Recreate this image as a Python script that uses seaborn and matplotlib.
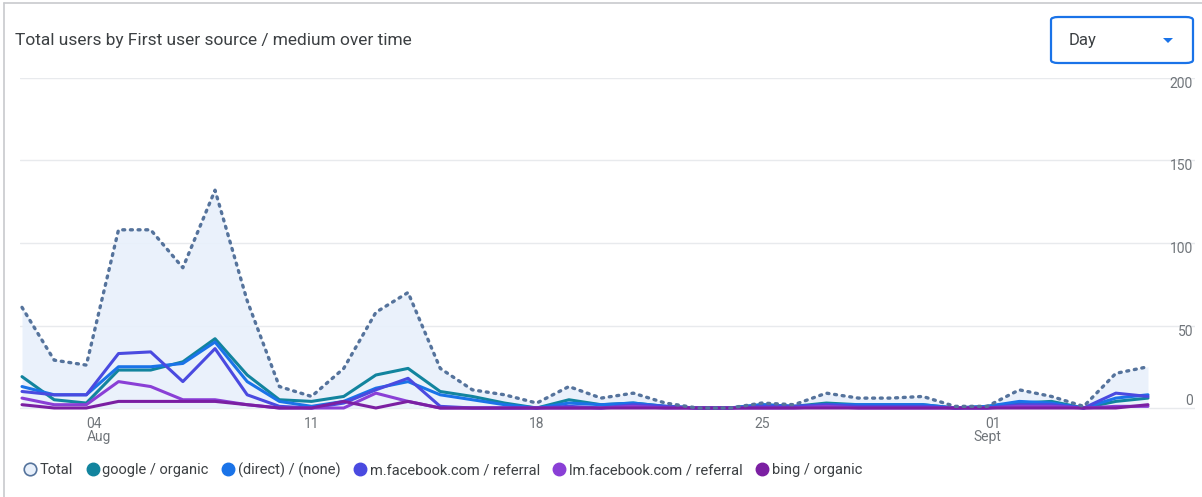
import matplotlib
matplotlib.use("Agg")
import matplotlib.pyplot as plt
import matplotlib.dates as mdates
import matplotlib.transforms as mtransforms
from matplotlib.lines import Line2D
from matplotlib.patches import FancyBboxPatch, Polygon
import pandas as pd
import seaborn as sns

# Data (daily users, 2 Aug - 6 Sept)
dates = pd.date_range("2024-08-02", "2024-09-06", freq="D")
total = [61, 29, 26, 108, 108, 85, 132, 65, 13, 7, 24, 58, 70, 24, 11, 8, 3, 13,
         6, 9, 3, 0, 0, 3, 2, 9, 6, 6, 7, 1, 1, 11, 7, 1, 21, 25]
google_organic = [19, 5, 3, 23, 23, 28, 42, 20, 5, 4, 7, 20, 24, 10, 7, 3, 0, 5,
                  2, 3, 1, 0, 0, 2, 1, 3, 2, 2, 2, 0, 1, 3, 4, 0, 4, 6]
direct_none = [13, 8, 8, 25, 25, 27, 40, 16, 4, 1, 4, 12, 16, 8, 5, 2, 0, 3,
               2, 3, 1, 0, 0, 2, 1, 2, 2, 2, 2, 0, 1, 4, 3, 0, 6, 8]
m_facebook = [10, 8, 8, 33, 34, 16, 36, 8, 1, 0, 3, 11, 18, 1, 0, 0, 0, 1,
              0, 2, 1, 0, 0, 1, 1, 2, 1, 1, 1, 0, 0, 2, 2, 0, 9, 7]
lm_facebook = [6, 2, 2, 16, 13, 5, 5, 2, 0, 0, 0, 9, 4, 0, 0, 0, 0, 0,
               0, 1, 0, 0, 0, 0, 0, 1, 0, 0, 0, 0, 0, 1, 1, 0, 1, 1]
bing_organic = [2, 0, 0, 4, 4, 4, 4, 2, 0, 0, 4, 0, 4, 0, 0, 0, 0, 0,
                0, 0, 0, 0, 0, 0, 0, 0, 0, 0, 0, 0, 0, 0, 0, 0, 0, 2]

series_names = ["google / organic", "(direct) / (none)", "m.facebook.com / referral",
                "lm.facebook.com / referral", "bing / organic"]
series_values = [google_organic, direct_none, m_facebook, lm_facebook, bing_organic]
series_colors = ["#12849e", "#1a73e8", "#4a4ae0", "#8a3fd6", "#7b1fa2"]
y_ticks = [0, 50, 100, 150, 200]
x_tick_dates = ["2024-08-04", "2024-08-11", "2024-08-18", "2024-08-25", "2024-09-01"]
x_tick_labels = ["04\nAug", "11", "18", "25", "01\nSept"]

total_color = "#55739c"
fill_color = "#e8f0fb"
text_color = "#3c4043"
grey = "#70757a"

long_df = pd.concat([
    pd.DataFrame({"date": dates, "users": vals, "source": name})
    for name, vals in zip(series_names, series_values)
])

sns.set_style("white")
plt.rcParams["font.family"] = ["Roboto", "DejaVu Sans"]

W, H = 1202, 497
fig = plt.figure(figsize=(W / 100, H / 100), dpi=100)
ax = fig.add_axes([20 / W, 1 - 410 / H, (1195 - 20) / W, (410 - 78) / H])

# y scale: 0 at px 408, 200 at px 78
ax.set_ylim(-2 / 1.65, 200)
x0 = mdates.date2num(dates[0])
day_px = (1148 - 22) / 35
ax.set_xlim(x0 - 2 / day_px, x0 + (1195 - 22) / day_px)

for v in y_ticks:
    ax.axhline(v, color="#e8eaed", lw=1, zorder=0)

ax.fill_between(dates, total, 0, color=fill_color, alpha=0.9, zorder=1, lw=0)
sns.lineplot(x=dates, y=total, ax=ax, color=total_color, lw=2.4, zorder=4)
ax.lines[-1].set_linestyle((0, (0.6, 1.7)))
ax.lines[-1].set_dash_capstyle("round")

sns.lineplot(data=long_df, x="date", y="users", hue="source", hue_order=series_names,
             palette=dict(zip(series_names, series_colors)), lw=2.2, ax=ax,
             legend=False, zorder=3)

for s in ax.spines.values():
    s.set_visible(False)
ax.set_xlabel("")
ax.set_ylabel("")
ax.set_yticks([])
ax.set_xticks(pd.to_datetime(x_tick_dates))
ax.set_xticklabels(x_tick_labels, color=grey, fontsize=10, linespacing=0.95)
ax.tick_params(axis="x", length=0, pad=5)
xlabels = ax.get_xticklabels()
xlabels[0].set_horizontalalignment("left")
xlabels[0].set_multialignment("left")
xlabels[-1].set_horizontalalignment("center")
xlabels[-1].set_multialignment("right")

# right-hand value labels
trans = mtransforms.blended_transform_factory(fig.transFigure, ax.transData)
for v in y_ticks:
    off = 7 if v == 0 else -6
    ax.text(1193 / W, v + off / 1.65, str(v), transform=trans,
            ha="right", va="center", color=grey, fontsize=10)

# card border
fig.add_artist(Line2D([4 / W, 4 / W], [0, 1 - 3 / H], color="#c8cacd", lw=1.2))
fig.add_artist(Line2D([4 / W, 1], [1 - 3 / H, 1 - 3 / H], color="#c8cacd", lw=1.2))

fig.text(15 / W, 1 - 40 / H, "Total users by First user source / medium over time",
         ha="left", va="center", color=text_color, fontsize=12.5)

# "Day" dropdown
fig.add_artist(FancyBboxPatch((1051 / W, 1 - 63 / H), 142 / W, 46 / H,
                              boxstyle="round,pad=0,rounding_size=0.006",
                              transform=fig.transFigure, fc="white", ec="#1a73e8", lw=1.6))
fig.text(1069 / W, 1 - 40 / H, "Day", ha="left", va="center", color=text_color, fontsize=12)
fig.add_artist(Polygon([[1163 / W, 1 - 38 / H], [1173 / W, 1 - 38 / H], [1168 / W, 1 - 43 / H]],
                       closed=True, transform=fig.transFigure, fc="#1a73e8", ec="none"))

# legend
handles = [Line2D([], [], marker="o", ls="none", ms=9, mfc=fill_color, mec=total_color, mew=1.2)]
handles += [Line2D([], [], marker="o", ls="none", ms=9, mfc=c, mec=c) for c in series_colors]
fig.legend(handles, ["Total"] + series_names, loc="center left",
           bbox_to_anchor=(18 / W, 1 - 470 / H), ncol=6, frameon=False,
           handlelength=0.7, handletextpad=0.3, columnspacing=1.0, borderpad=0,
           fontsize=10.5, labelcolor=text_color)

fig.savefig("out.png", dpi=100)
